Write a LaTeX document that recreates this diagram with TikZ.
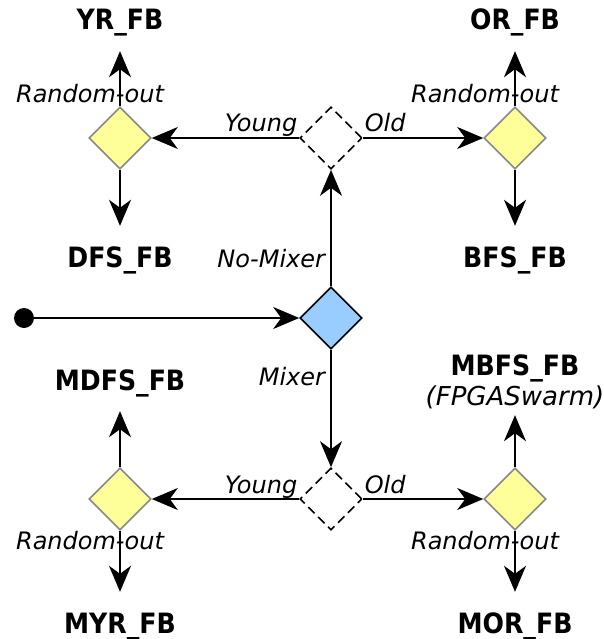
\documentclass[tikz,border=0pt]{standalone}
\usepackage{fontspec}
\setmainfont{DejaVu Sans}
\newfontfamily\blockfont[FakeStretch=0.9]{DejaVu Sans}
\usetikzlibrary{arrows.meta,shapes.geometric}
\definecolor{randyellow}{RGB}{255,255,153}
\definecolor{randedge}{RGB}{136,136,136}
\definecolor{mixblue}{RGB}{153,204,255}
\tikzset{
    decision/.style={diamond,aspect=1,minimum width=62pt,minimum height=62pt,inner sep=0pt,line width=1.6pt},
    random choice/.style={decision,draw=randedge,fill=randyellow},
    mixer choice/.style={decision,draw=black,fill=mixblue},
    age choice/.style={decision,draw=black,fill=white,dash pattern=on 9pt off 5pt},
    start point/.style={circle,fill=black,minimum size=20pt,inner sep=0pt},
    arr/.style={-{Stealth[length=26pt,width=22pt,inset=8pt]},line width=2pt},
    block label/.style={font=\blockfont\fontsize{28}{32}\selectfont\bfseries,text height=20pt,text depth=0pt,inner xsep=2pt,inner ysep=21pt},
    edge label/.style={font=\fontsize{24}{28}\selectfont\itshape,inner sep=1pt},
    age label/.style={edge label,text depth=4pt},
}

\begin{document}
\begin{tikzpicture}[x=1pt,y=-1pt]
        \useasboundingbox (0,0) rectangle (604,639);
        \node[start point] (start) at (24,318) {};
        \node[mixer choice] (mix) at (331,318) {};
        \node[age choice] (ageTop) at (331,138) {};
        \node[age choice] (ageBot) at (331,499) {};
        \node[random choice] (randYR) at (120,138) {};
        \node[random choice] (randOR) at (515,138) {};
        \node[random choice] (randMY) at (120,499) {};
        \node[random choice] (randMO) at (515,499) {};

        \node[block label] (yr) at (120,20) {YR\_FB};
        \node[block label] (dfs) at (120,257) {DFS\_FB};
        \node[block label] (or) at (515,20) {OR\_FB};
        \node[block label] (bfs) at (515,257) {BFS\_FB};
        \node[block label] (mdfs) at (120,380) {MDFS\_FB};
        \node[block label] (mbfs) at (515,365) {MBFS\_FB};
        \node[edge label,font=\fontsize{26}{30}\selectfont\itshape,text height=18pt,text depth=0pt,inner ysep=10pt] (swarm) at (515,396) {(FPGASwarm)};
        \node[block label] (myr) at (120,623) {MYR\_FB};
        \node[block label] (mor) at (515,623) {MOR\_FB};

        \draw[arr] (start) -- (mix);
        \draw[arr] (mix) -- node[edge label,pos=0.24,anchor=east,xshift=-4pt] {No-Mixer} (ageTop);
        \draw[arr] (mix) -- node[edge label,pos=0.23,anchor=east,xshift=-4pt] {Mixer} (ageBot);
        \draw[arr] (ageTop) -- node[age label,pos=0,anchor=south east] {Young} (randYR);
        \draw[arr] (ageTop) -- node[age label,pos=0,anchor=south west] {Old} (randOR);
        \draw[arr] (ageBot) -- node[age label,pos=0,anchor=south east] {Young} (randMY);
        \draw[arr] (ageBot) -- node[age label,pos=0,anchor=south west] {Old} (randMO);

        \draw[arr] (randYR) -- node[edge label,pos=0.23,xshift=-30pt] {Random-out} (yr);
        \draw[arr] (randYR) -- (dfs);
        \draw[arr] (randOR) -- node[edge label,pos=0.23,xshift=-30pt] {Random-out} (or);
        \draw[arr] (randOR) -- (bfs);
        \draw[arr] (randMY) -- (mdfs);
        \draw[arr] (randMY) -- node[edge label,pos=0.16,xshift=-30pt] {Random-out} (myr);
        \draw[arr] (randMO) -- (swarm);
        \draw[arr] (randMO) -- node[edge label,pos=0.16,xshift=-30pt] {Random-out} (mor);
    \end{tikzpicture}
\end{document}
